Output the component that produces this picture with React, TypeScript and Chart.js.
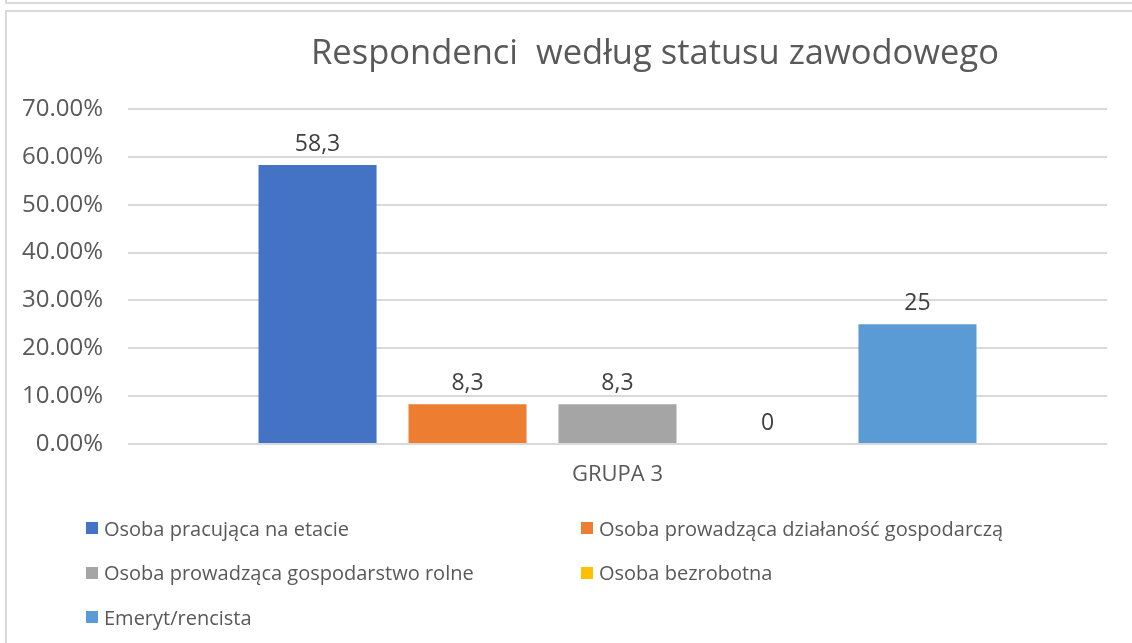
import React, { useEffect, useRef } from "react";
import { Chart, registerables } from "chart.js";

Chart.register(...registerables);

const FONT = "'Open Sans', 'Noto Sans', sans-serif";

const titleText = "Respondenci  według statusu zawodowego";
const categories = ["GRUPA 3"];
const seriesNames = [
  "Osoba pracująca na etacie",
  "Osoba prowadząca działaność gospodarczą",
  "Osoba prowadząca gospodarstwo rolne",
  "Osoba bezrobotna",
  "Emeryt/rencista",
];
const seriesValues = [58.3, 8.3, 8.3, 0, 25];
const seriesColors = ["#4472C4", "#ED7D31", "#A5A5A5", "#FFC000", "#5B9BD5"];
const yMin = 0;
const yMax = 70;
const yStep = 10;

const formatLabel = (v: number) => String(v).replace(".", ",");
const formatTick = (v: number) => v.toFixed(2) + "%";

const titlePlugin = {
  id: "customTitle",
  afterDraw(chart: any) {
    const ctx = chart.ctx;
    ctx.save();
    ctx.font = `normal 34.5px ${FONT}`;
    ctx.fillStyle = "#595959";
    ctx.textAlign = "center";
    ctx.textBaseline = "middle";
    ctx.fillText(titleText, chart.width * 0.5786, 54);
    ctx.restore();
  },
};

const dataLabelPlugin = {
  id: "dataLabels",
  afterDatasetsDraw(chart: any) {
    const ctx = chart.ctx;
    ctx.save();
    ctx.font = `normal 23px ${FONT}`;
    ctx.fillStyle = "#404040";
    ctx.textAlign = "center";
    ctx.textBaseline = "alphabetic";
    chart.data.datasets.forEach((ds: any, i: number) => {
      const meta = chart.getDatasetMeta(i);
      meta.data.forEach((el: any, j: number) => {
        ctx.fillText(formatLabel(ds.data[j]), el.x, el.y - 14);
      });
    });
    ctx.restore();
  },
};

export default function App() {
  const ref = useRef<HTMLCanvasElement | null>(null);

  useEffect(() => {
    if (!ref.current) return;
    const chart = new Chart(ref.current, {
      type: "bar",
      data: {
        labels: categories,
        datasets: seriesNames.map((name, i) => ({
          label: name,
          data: [seriesValues[i]],
          backgroundColor: seriesColors[i],
          categoryPercentage: 0.766,
          barPercentage: 0.787,
        })),
      },
      options: {
        responsive: false,
        animation: false,
        layout: { padding: { left: 0, right: 25, top: 109, bottom: 155 } },
        plugins: {
          legend: { display: false },
          tooltip: { enabled: false },
          title: { display: false },
        },
        scales: {
          x: {
            grid: { display: false },
            border: { display: false },
            ticks: {
              font: { family: FONT, size: 22 },
              color: "#595959",
              padding: 10,
            },
            afterFit: (s: any) => {
              s.height = 44;
            },
          },
          y: {
            min: yMin,
            max: yMax,
            border: { display: false },
            grid: { color: "#d9d9d9", lineWidth: 2, drawTicks: false },
            ticks: {
              stepSize: yStep,
              font: { family: FONT, size: 24 },
              color: "#595959",
              padding: 25,
              callback: (v: any) => formatTick(Number(v)),
            },
            afterFit: (s: any) => {
              s.width = 128;
            },
          },
        },
      },
      plugins: [titlePlugin, dataLabelPlugin],
    });
    return () => chart.destroy();
  }, []);

  const legendRows = [
    [0, 1],
    [2, 3],
    [4],
  ];

  return (
    <div
      style={{
        position: "fixed",
        left: 0,
        top: 0,
        width: 1132,
        height: 643,
        background: "#fff",
        overflow: "hidden",
        fontFamily: FONT,
      }}
    >
      <div
        style={{
          position: "absolute",
          left: 5,
          top: -20,
          width: 1200,
          height: 22,
          borderLeft: "2px solid #d9d9d9",
          borderBottom: "2px solid #d9d9d9",
        }}
      />
      <div
        style={{
          position: "absolute",
          left: 5,
          top: 10,
          width: 1200,
          height: 700,
          borderLeft: "2px solid #d9d9d9",
          borderTop: "2px solid #d9d9d9",
        }}
      />
      <canvas
        ref={ref}
        width={1132}
        height={643}
        style={{ position: "absolute", left: 0, top: 0, width: 1132, height: 643 }}
      />
      <div style={{ position: "absolute", left: 86, top: 513 }}>
        {legendRows.map((row, r) => (
          <div key={r} style={{ display: "flex", height: 44.5, alignItems: "flex-start" }}>
            {row.map((i) => (
              <div
                key={i}
                style={{
                  width: 495,
                  display: "flex",
                  alignItems: "center",
                  height: 30,
                  fontSize: 20,
                  color: "#595959",
                  whiteSpace: "nowrap",
                }}
              >
                <span
                  style={{
                    display: "inline-block",
                    width: 12,
                    height: 12,
                    background: seriesColors[i],
                    marginRight: 6,
                    flex: "none",
                  }}
                />
                <span>{seriesNames[i]}</span>
              </div>
            ))}
          </div>
        ))}
      </div>
    </div>
  );
}
